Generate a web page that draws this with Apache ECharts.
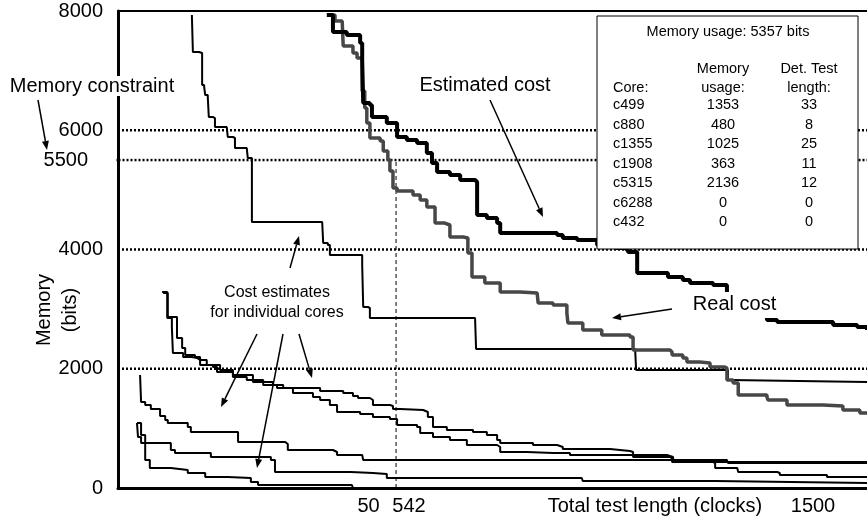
<!DOCTYPE html>
<html>
<head>
<meta charset="utf-8">
<script src="https://cdn.jsdelivr.net/npm/echarts@6/dist/echarts.min.js"></script>
<style>
  html, body { margin: 0; padding: 0; background: #fff; }
  #chart { width: 867px; height: 519px; }
</style>
</head>
<body>
<div id="chart"></div>
<script>
const FONT = '"Liberation Sans", Arial, Helvetica, sans-serif';

// Axes: total test length (clocks) and memory (bits)
const xRange = [0, 1460];
const yRange = [0, 8000];
const yTickValues = [0, 2000, 4000, 5500, 6000, 8000];
const xTickValues = [500, 542];
const xTickLabels = ['50', '542'];
const constraintLevels = [6000, 5500, 4000, 2000];
const chosenLength = 542;

// Summed cost curves, [test length, memory]
const estimatedCost = [[407,7933],[419,7648],[446,7597],[472,7463],[476,7178],[478,6457],[491,6423],[495,6222],[524,6121],[544,5887],[563,5836],[583,5786],[602,5618],[612,5451],[622,5300],[647,5249],[667,5165],[696,5132],[700,4578],[719,4528],[739,4444],[745,4277],[809,4277],[856,4243],[867,4193],[895,4159],[934,4075],[969,4025],[988,3992],[994,3958],[1008,3958],[1012,3606],[1072,3539],[1101,3488],[1115,3438],[1160,3404],[1187,3337],[1187,3153],[1222,2985],[1261,2918],[1265,2818],[1285,2784],[1374,2784],[1394,2734],[1441,2700],[1460,2650]];
const realCost = [[417,7933],[423,7832],[437,7799],[439,7413],[458,7295],[466,7212],[476,6658],[481,6373],[485,6121],[491,5870],[511,5820],[517,5652],[526,5507],[530,5316],[536,5031],[544,4981],[575,4914],[589,4830],[602,4713],[618,4444],[637,4411],[647,4210],[673,4193],[682,3941],[690,3539],[715,3438],[745,3287],[784,3270],[817,3237],[819,3103],[848,3069],[875,2935],[877,2767],[906,2650],[943,2566],[998,2532],[1004,2314],[1076,2281],[1080,2231],[1101,2180],[1109,2113],[1134,2096],[1154,2029],[1183,2013],[1187,1811],[1199,1761],[1209,1560],[1265,1526],[1267,1476],[1304,1392],[1374,1375],[1413,1308],[1446,1258],[1460,1258]];

// Cost estimates of the individual cores
const coreCurve1 = [[144,7933],[146,7312],[158,7295],[164,6759],[168,6725],[170,6591],[175,6557],[177,6222],[185,6205],[189,6054],[212,6054],[214,5887],[224,5870],[228,5702],[251,5669],[253,5534],[261,5507],[261,4461],[398,4461],[400,4109],[409,4075],[413,3908],[472,3908],[476,3740],[478,3036],[487,3019],[491,2851],[696,2851],[698,2331],[1008,2314],[1010,1979],[1183,1979],[1189,1811],[1193,1778],[1460,1778]];
const coreCurve2 = [[86,3287],[96,2851],[105,2700],[107,2264],[127,2197],[144,2180],[154,2147],[160,2063],[185,2029],[193,1945],[224,1895],[263,1778],[302,1727],[322,1677],[380,1677],[394,1627],[439,1593],[458,1543],[468,1509],[491,1476],[497,1392],[530,1375],[536,1325],[550,1308],[595,1275],[604,1191],[614,1023],[641,973],[692,939],[719,889],[739,805],[745,755],[809,721],[856,688],[867,654],[959,621],[998,604],[1004,520],[1076,503],[1080,436],[1460,436]];
const coreCurve3 = [[88,3270],[97,2868],[115,2516],[125,2348],[131,2231],[150,2197],[160,2147],[173,2063],[199,1979],[224,1862],[251,1811],[283,1727],[310,1677],[341,1593],[380,1526],[394,1476],[413,1392],[427,1275],[472,1241],[497,1191],[530,1157],[544,1057],[583,1023],[589,922],[614,855],[647,805],[680,721],[739,688],[745,604],[797,587],[848,587],[881,553],[959,553],[1070,520],[1082,436],[1160,419],[1164,335],[1207,302],[1209,268],[1285,252],[1290,218],[1374,218],[1382,184],[1421,184],[1460,168]];
const coreCurve4 = [[43,1895],[45,1442],[53,1392],[64,1325],[82,1208],[92,1140],[97,1090],[136,1023],[142,939],[228,939],[234,771],[326,738],[331,637],[419,604],[427,553],[476,537],[478,470],[1187,470],[1189,419],[1460,419]];
const coreCurve5 = [[37,1090],[39,855],[45,755],[92,755],[103,637],[111,587],[175,587],[181,520],[298,470],[306,268],[454,252],[497,235],[524,168],[904,168],[906,117],[1160,117],[1164,84],[1460,84]];
const coreCurve6 = [[37,1090],[45,889],[53,470],[62,335],[103,302],[136,252],[170,184],[214,168],[259,101],[273,50],[456,34],[458,0],[1460,0]];

// Solution table
const totalMemory = 5357;
const coreNames = ['c499', 'c880', 'c1355', 'c1908', 'c5315', 'c6288', 'c432'];
const coreMemory = [1353, 480, 1025, 363, 2136, 0, 0];
const coreTestLength = [33, 8, 25, 11, 12, 0, 0];

const chart = echarts.init(document.getElementById('chart'), null, { renderer: 'canvas' });

function curve(name, data, color, width, z) {
  return {
    type: 'line', name, data, step: 'end', symbol: 'none', silent: true,
    z, lineStyle: { color, width }, emphasis: { disabled: true }
  };
}

// Horizontal memory-constraint lines; the 5500 one reaches past the axis to its label
const constraintSeries = constraintLevels.map(level => ({
  type: 'line', symbol: 'none', silent: true, clip: false, z: 1,
  data: [[level === 5500 ? -38 : xRange[0], level], [xRange[1], level]],
  lineStyle: { color: '#000', width: 2.5, type: [2, 2] }
}));

const markerSeries = {
  type: 'line', symbol: 'none', silent: true, z: 1,
  data: [[chosenLength, 0], [chosenLength, 5500]],
  lineStyle: { color: '#000', width: 1, type: [4, 3] }
};

function arrow(x1, y1, x2, y2) {
  const dx = x2 - x1, dy = y2 - y1, len = Math.hypot(dx, dy);
  const ux = dx / len, uy = dy / len, L = 9, W = 3.5;
  const bx = x2 - ux * L, by = y2 - uy * L;
  return [
    { type: 'line', z: 100, silent: true, shape: { x1, y1, x2: bx, y2: by },
      style: { stroke: '#000', lineWidth: 1.5 } },
    { type: 'polygon', z: 100, silent: true,
      shape: { points: [[x2, y2], [bx - uy * W, by + ux * W], [bx + uy * W, by - ux * W]] },
      style: { fill: '#000' } }
  ];
}

function label(text, x, y, size, extra) {
  return {
    type: 'text', z: 102, silent: true, x, y,
    style: Object.assign({
      text, fill: '#000', fontSize: size, fontFamily: FONT,
      align: 'center', verticalAlign: 'middle'
    }, extra || {})
  };
}

// Table box with the chosen solution
const tableX = 597, tableY = 16, tableW = 261, tableH = 233;
const colCore = 613, colMem = 723, colLen = 809;
const rowTop = 105, rowStep = 19.5, tSize = 14.5;
const tableItems = [
  { type: 'rect', z: 101, silent: true,
    shape: { x: tableX, y: tableY, width: tableW, height: tableH },
    style: { fill: '#fff', stroke: '#000', lineWidth: 1 } },
  label('Memory usage: ' + totalMemory + ' bits', 728, 32, tSize),
  label('Memory', colMem, 68.5, tSize),
  label('Det. Test', colLen, 68.5, tSize),
  label('Core:', colCore, 87.5, tSize, { align: 'left' }),
  label('usage:', colMem, 87.5, tSize),
  label('length:', colLen, 87.5, tSize)
];
coreNames.forEach((c, i) => {
  const y = rowTop + i * rowStep;
  tableItems.push(label(c, colCore, y, tSize, { align: 'left' }));
  tableItems.push(label(String(coreMemory[i]), colMem, y, tSize));
  tableItems.push(label(String(coreTestLength[i]), colLen, y, tSize));
});

const notes = [
  label('Memory constraint', 92, 86, 20, { backgroundColor: '#fff' }),
  label('Estimated cost', 485, 85, 20),
  label('Real cost', 734.5, 292, 20, { verticalAlign: 'top', lineHeight: 20, backgroundColor: '#fff', padding: [2, 2, 4, 2] }),
  label('Cost estimates\nfor individual cores', 277, 303, 16, { lineHeight: 20 }),
  label('1500', 813, 506, 20)
];

const arrows = [].concat(
  arrow(38, 100, 47, 150),
  arrow(490, 100, 543, 217),
  arrow(672, 309, 612, 318),
  arrow(290, 268, 299, 236),
  arrow(257, 334, 221, 407),
  arrow(283, 334, 257, 468),
  arrow(299, 334, 312, 378)
);

const option = {
  animation: false,
  backgroundColor: '#fff',
  textStyle: { fontFamily: FONT, color: '#000' },
  grid: { left: 118, right: 0, top: 11, bottom: 31, outerBoundsMode: 'none' },
  xAxis: [{
    type: 'value', min: xRange[0], max: xRange[1],
    axisLine: { show: true, onZero: false, lineStyle: { color: '#000', width: 3 } },
    axisTick: { show: false },
    splitLine: { show: false },
    axisLabel: {
      customValues: xTickValues, margin: 8, fontSize: 20, color: '#000', fontFamily: FONT,
      formatter: v => {
        const i = xTickValues.indexOf(v);
        return i === 0 ? '{a|' + xTickLabels[i] + '}' : '{b|' + xTickLabels[i] + '}';
      },
      rich: {
        a: { fontSize: 20, fontFamily: FONT, color: '#000', padding: [0, 12, 0, 0] },
        b: { fontSize: 20, fontFamily: FONT, color: '#000', padding: [0, 0, 0, 26] }
      }
    },
    name: 'Total test length (clocks)', nameLocation: 'middle', nameGap: 8, nameMoveOverlap: false,
    nameTextStyle: { fontSize: 20, color: '#000', fontFamily: FONT, padding: [0, 0, 0, 325] }
  }, {
    type: 'value', position: 'top', min: xRange[0], max: xRange[1],
    axisLine: { show: true, onZero: false, lineStyle: { color: '#000', width: 2 } },
    axisTick: { show: false }, axisLabel: { show: false }, splitLine: { show: false }
  }],
  yAxis: {
    type: 'value', min: yRange[0], max: yRange[1],
    axisLine: { show: true, onZero: false, lineStyle: { color: '#000', width: 3 } },
    axisTick: { show: false },
    splitLine: { show: false },
    axisLabel: {
      customValues: yTickValues, margin: 15, fontSize: 20, color: '#000', fontFamily: FONT,
      formatter: v => v === 5500 ? '{s|5500}' : String(v),
      rich: { s: { fontSize: 20, fontFamily: FONT, color: '#000', padding: [0, 15, 0, 0] } }
    },
    name: 'Memory\n(bits)', nameLocation: 'middle', nameGap: 35, nameMoveOverlap: false,
    nameTextStyle: { fontSize: 20, lineHeight: 26, color: '#000', fontFamily: FONT, padding: [0, 121, 0, 0] }
  },
  series: [
    ...constraintSeries,
    markerSeries,
    curve('core 1', coreCurve1, '#000', 2, 3),
    curve('core 2', coreCurve2, '#000', 2, 3),
    curve('core 3', coreCurve3, '#000', 2, 3),
    curve('core 4', coreCurve4, '#000', 2, 3),
    curve('core 5', coreCurve5, '#000', 2, 3),
    curve('core 6', coreCurve6, '#000', 2, 3),
    curve('Real cost', realCost, '#474747', 3.5, 4),
    curve('Estimated cost', estimatedCost, '#000', 4, 5)
  ],
  graphic: { elements: [].concat(arrows, tableItems, notes) }
};

chart.setOption(option);
</script>
</body>
</html>
